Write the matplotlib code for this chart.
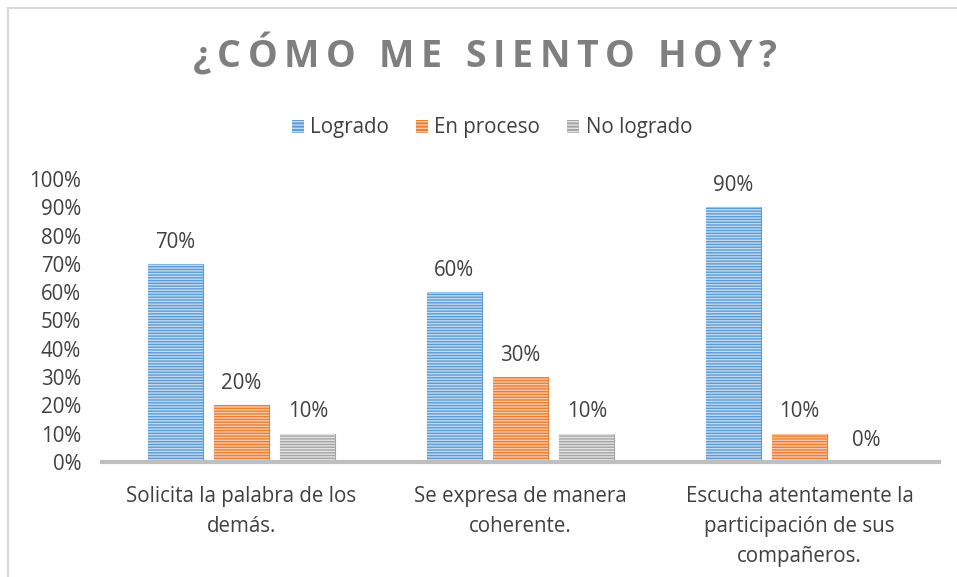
import numpy as np
import matplotlib
matplotlib.use("Agg")
import matplotlib.pyplot as plt
from matplotlib.patches import Rectangle, Patch

# Data
categorias = ["Solicita la palabra de los\ndemás.",
              "Se expresa de manera\ncoherente.",
              "Escucha atentamente la\nparticipación de sus\ncompañeros."]
series = ["Logrado", "En proceso", "No logrado"]
logrado = [0.70, 0.60, 0.90]
en_proceso = [0.20, 0.30, 0.10]
no_logrado = [0.10, 0.10, 0.00]
valores = [logrado, en_proceso, no_logrado]

colores = ["#5B9BD5", "#ED7D31", "#A5A5A5"]
rayas = ["#C2DAF1", "#F9C8A8", "#E2E2E2"]

plt.rcParams['font.family'] = ['Open Sans', 'DejaVu Sans']
plt.rcParams['hatch.linewidth'] = 1.0

fig = plt.figure(figsize=(9.57, 5.77), dpi=100, facecolor="white")

# light border around the chart area
fig.patches.append(Rectangle((8/957, -0.1), 1.2, 1 - 7.5/577 + 0.1,
                             transform=fig.transFigure, fill=False,
                             edgecolor="#D9D9D9", linewidth=1.5))

ax = fig.add_axes([102/957, 1 - 462/577, 837/957, (462 - 179)/577])

x = np.arange(len(categorias))
ancho = 0.197
desp = 0.238
texto = "#404040"
fs = 14.8

for i, (vals, c, r) in enumerate(zip(valores, colores, rayas)):
    pos = x + (i - 1) * desp
    ax.bar(pos, vals, ancho, color=c, edgecolor=c, linewidth=0.8, zorder=2)
    ax.bar(pos, vals, ancho, facecolor="none", edgecolor=r, linewidth=0,
           hatch="------", zorder=3)
    for p, v in zip(pos, vals):
        ax.text(p, v + 0.04, f"{v:.0%}", ha="center", va="bottom",
                fontsize=fs, color=texto)

ax.set_xlim(-0.5, 2.5)
ax.set_ylim(0, 1)
ax.set_yticks(np.arange(0, 1.01, 0.1))
ax.set_yticklabels([f"{int(round(t*100))}%" for t in np.arange(0, 1.01, 0.1)])
ax.set_xticks(x)
ax.set_xticklabels(categorias, linespacing=1.56)
ax.tick_params(axis="both", length=0, labelsize=fs, labelcolor=texto)
ax.tick_params(axis="x", pad=17)
ax.tick_params(axis="y", pad=15)
for s in ["top", "right", "left"]:
    ax.spines[s].set_visible(False)
ax.spines["bottom"].set_color("#BFBFBF")
ax.spines["bottom"].set_linewidth(3)
ax.spines["bottom"].set_zorder(4)

# legend
handles = [Patch(facecolor=c, edgecolor=r, hatch="-----", linewidth=0)
           for c, r in zip(colores, rayas)]
fig.legend(handles, series, loc="center", bbox_to_anchor=(492/957, 1 - 128/577),
           ncol=3, frameon=False, fontsize=fs, labelcolor=texto,
           handlelength=0.6, handleheight=0.6, handletextpad=0.3,
           columnspacing=1.3)

# title with wide letter spacing
titulo = "¿CÓMO ME SIENTO HOY?"
fig.canvas.draw()
r_ = fig.canvas.get_renderer()
tamano = 27
espacio = 6.5
piezas = []
total = 0
for ch in titulo:
    t = fig.text(0, 0, ch if ch != " " else "M", fontsize=tamano, fontweight="bold")
    w = t.get_window_extent(r_).width
    if ch == " ":
        w *= 0.3
    t.remove()
    piezas.append(w)
    total += w + espacio
total -= espacio
xpos = 485 - total / 2
for ch, w in zip(titulo, piezas):
    if ch != " ":
        fig.text(xpos / 957, 1 - 57 / 577, ch, fontsize=tamano, fontweight="bold",
                 color="#7F7F7F", ha="left", va="center")
    xpos += w + espacio

fig.savefig("out.png", dpi=100, facecolor="white")
